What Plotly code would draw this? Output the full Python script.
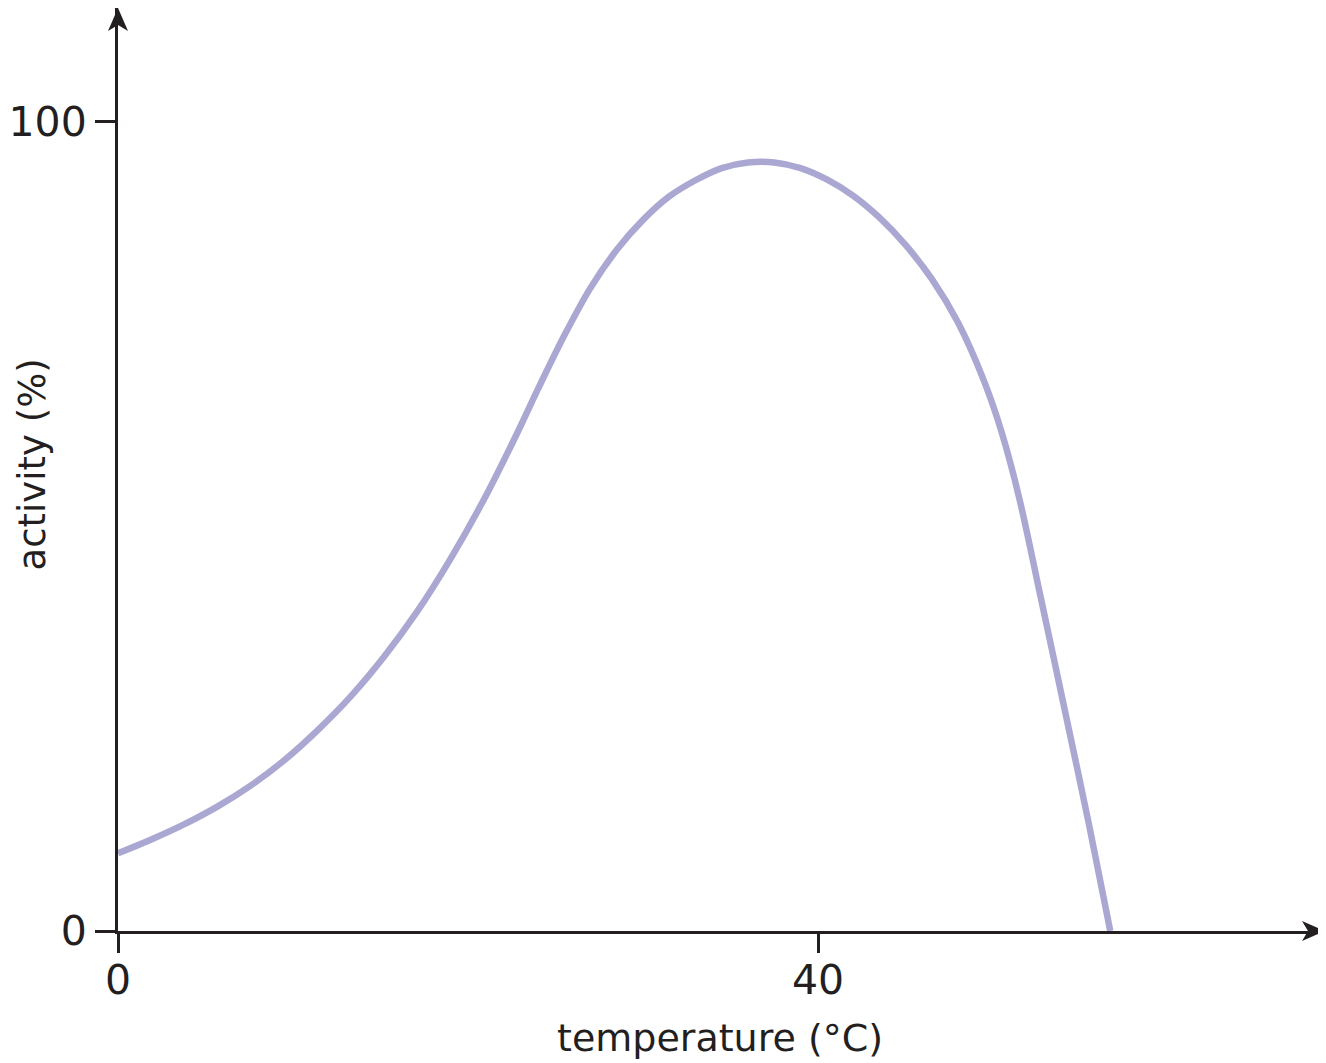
import plotly.graph_objects as go

# Enzyme activity vs temperature
temperature = [0, 1.9, 3.8, 5.7, 7.6, 9.5, 11.4, 13.3, 15.2, 17.1, 19.0,
               20.9, 22.8, 24.0, 25.5, 27.0, 28.5, 30.0, 31.5, 33.0, 34.5,
               36.0, 37.5, 39.0, 40.5, 42.0, 43.5, 45.0, 46.5, 48.0, 49.5,
               50.5, 51.5, 52.7, 54.2, 55.5, 56.7]
activity = [9.6, 11.3, 13.2, 15.4, 18.0, 21.1, 24.8, 29.0, 33.9, 39.5, 46.0,
            53.3, 61.5, 67.0, 73.6, 79.5, 84.2, 87.9, 90.8, 92.8, 94.3,
            95.0, 95.0, 94.3, 92.9, 90.9, 88.2, 84.8, 80.6, 75.2, 67.9,
            61.6, 53.5, 41.5, 26.3, 13.0, 0]

x_ticks = [0, 40]
y_ticks = [0, 100]
x_label = "temperature (°C)"
y_label = "activity (%)"

INK = "#231f20"
CURVE = "#aaa8d2"
FONT = "DejaVu Sans"

X_MAX = 68.97
Y_MAX = 114.09

fig = go.Figure()

fig.add_trace(go.Scatter(
    x=temperature,
    y=activity,
    mode="lines",
    line=dict(color=CURVE, width=6.5, shape="spline", smoothing=0.9),
    hoverinfo="skip",
    showlegend=False,
))

axis_common = dict(
    showline=True,
    linecolor=INK,
    linewidth=3,
    showgrid=False,
    zeroline=False,
    ticks="outside",
    tickcolor=INK,
    tickwidth=3,
    tickfont=dict(family=FONT, size=41, color=INK),
    automargin=False,
    fixedrange=True,
)

fig.update_xaxes(range=[0, X_MAX], tickvals=x_ticks, ticklen=19,
                 ticklabelstandoff=-8, **axis_common)
fig.update_yaxes(range=[0, Y_MAX], tickvals=y_ticks, ticklen=20,
                 ticklabelstandoff=0, **axis_common)

# axis titles
fig.add_annotation(text=x_label, xref="paper", yref="paper", x=0.499, y=-0.1159,
                   xanchor="center", yanchor="middle", showarrow=False,
                   font=dict(family=FONT, size=38, color=INK))
fig.add_annotation(text=y_label, xref="paper", yref="paper", x=-0.0708, y=0.505,
                   xanchor="center", yanchor="middle", textangle=-90, showarrow=False,
                   font=dict(family=FONT, size=37, color=INK))

# arrowheads at the ends of both axes (pixel-sized, paper anchored so not clipped)
arrow_common = dict(type="path", xref="paper", yref="paper",
                    xsizemode="pixel", ysizemode="pixel",
                    fillcolor=INK, line=dict(width=0), layer="above")
fig.add_shape(xanchor=1, yanchor=0,
              path="M 0 0 L -23 10 L -17 0 L -23 -10 Z", **arrow_common)
fig.add_shape(xanchor=0, yanchor=1,
              path="M 0 0 L -10 -23 L 0 -17 L 10 -23 Z", **arrow_common)

fig.update_layout(
    width=1318,
    height=1055,
    margin=dict(l=110, r=1, t=0, b=132),
    plot_bgcolor="white",
    paper_bgcolor="white",
    font=dict(family=FONT, color=INK),
)

fig.write_html("out.html")
